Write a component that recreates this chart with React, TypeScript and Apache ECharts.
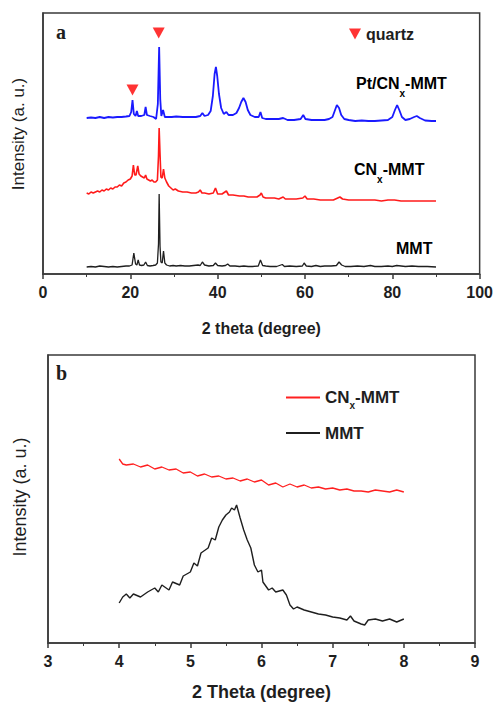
import React, { useEffect, useRef } from 'react';
import * as echarts from 'echarts';

// ---------- Panel a: XRD patterns (2 theta 10–90°) ----------
const mmtA: [number, number][] = [
  [10,7],[11,7.5],[12,7],[13,8],[14,7.5],[15,7],[16,7.5],[17,7],[18,7.5],[19,8],[19.8,8],[20.4,9],[20.8,21],[21.2,10],[21.5,9],[21.8,14],[22.1,9],[22.6,8.5],[23.1,9],[23.5,12],[23.9,8.5],[24.5,8],[25.2,8.5],[25.8,9],[26.2,11],[26.45,30],[26.6,80],[26.8,28],[27.0,12],[27.3,11],[27.6,23],[27.9,11],[28.3,9],[29,8],[29.8,8.5],[30.5,8],[31.5,8.5],[32.5,8],[33.5,8],[34.5,8.5],[35.5,9],[36.0,8.5],[36.5,12],[37,9],[38,8],[39,8.5],[39.5,11],[40,8.5],[41,8],[41.8,8.5],[42.3,10],[42.8,8],[44,8],[45,7.5],[46,8],[47,7.5],[48,7.5],[49.3,8],[49.8,14],[50.3,8.5],[51,8],[52,7.5],[53.5,7.5],[54.8,9.5],[55.3,7.5],[56.5,8],[58,7.5],[59.4,8],[59.8,11],[60.3,8],[61.5,7.5],[62.5,8.5],[63.5,7.5],[64.5,8],[66,8],[67.2,8.5],[67.8,12],[68.4,9],[69.2,7.5],[70.5,7.5],[72,8],[73.5,7.5],[75,8.5],[76,7.5],[77.5,7.5],[79,8],[80,7.5],[81,8.5],[82,8],[83,7.5],[84.5,8],[86,7.5],[88,7.5],[90,7]
];

const cnxA: [number, number][] = [
  [10,81],[10.5,80],[11,82],[11.5,81],[12,82],[12.5,83],[13,82],[13.5,84],[14,83],[14.5,85],[15,84],[15.5,86],[16,85],[16.5,87],[17,87],[17.5,89],[18,88],[18.5,91],[19,92],[19.5,94],[20,95],[20.4,98],[20.7,109],[21.0,99],[21.3,99],[21.7,108],[22.0,100],[22.4,98],[22.8,97],[23.2,96],[23.5,99],[23.8,95],[24.2,94],[24.6,93],[25,94],[25.4,92],[25.8,92],[26.2,94],[26.45,118],[26.6,146],[26.8,120],[27.0,97],[27.3,96],[27.6,105],[27.9,96],[28.3,92],[28.8,88],[29.3,86],[29.8,84],[30.3,85],[31,83],[32,82],[33,82],[34,81],[35,81],[35.6,82],[36,84],[36.4,81],[37,81],[38,80],[39,81],[39.5,86],[40,80],[41,80],[42,83],[42.5,79],[43.5,79],[45,78],[46,78],[47,77],[48,77],[49,77],[49.7,79],[50,81],[50.4,77],[51,76],[52,76],[53,76],[54,75],[55,77],[55.5,75],[57,75],[58,75],[59.5,76],[60,78],[60.5,75],[62,75],[63.5,74],[65,74],[66.5,74],[67.5,76],[68,77],[68.6,75],[70,74],[71.5,74],[73,74],[74.5,74],[76,74],[77.5,73],[79,74],[80.5,74],[82,73],[83.5,73],[85,73],[86.5,73],[88,73],[90,73]
];

const ptA: [number, number][] = [
  [10,156],[11,156.5],[12,156],[13,157],[14,156],[15,157],[16,156.5],[17,157],[18,157],[19,157.5],[19.8,158],[20.2,162],[20.5,174],[20.8,160],[21.2,158],[21.5,163],[21.8,158],[22.5,158],[23.2,159],[23.5,167],[23.8,159],[24.5,158],[25.3,157],[25.9,155],[26.3,170],[26.6,227],[26.85,175],[27.1,158],[27.5,164],[27.9,157],[28.5,157],[29.5,157],[30.5,157.5],[32,157],[33.5,157],[35,157],[36,158],[36.5,161],[37,158],[37.8,159],[38.4,163],[38.9,178],[39.3,200],[39.6,207],[39.9,198],[40.3,180],[40.8,166],[41.4,160],[42,162],[42.5,159],[43.5,159],[44.3,161],[44.9,166],[45.4,172],[45.9,176],[46.4,172],[46.9,164],[47.5,159],[48.5,157],[49.4,157],[49.8,162],[50.2,156],[51,155],[52.5,155],[54,155],[55,156],[56,154],[57.5,154],[59,155],[59.6,159],[60.1,155],[61.5,154],[63,154],[64.5,154],[65.5,155],[66.3,157],[66.8,163],[67.3,169],[67.8,166],[68.3,159],[69,155],[70,154],[71.5,153],[73,153.5],[74.5,153],[76,153],[77.5,153.5],[79,154],[80,157],[80.6,164],[81.1,169],[81.6,164],[82.2,157],[83,154],[84,155],[85,157],[85.6,158],[86.3,156],[87.5,153.5],[89,153],[90,153]
];

const quartzMarks: [number, number][] = [[20.5, 184], [26.5, 241]];

// ---------- Panel b: low-angle XRD (2 theta 4–8°) ----------
const cnxB: [number, number][] = [
  [4.0,184],[4.05,179],[4.1,178],[4.2,179],[4.3,176],[4.4,178],[4.5,174],[4.6,176],[4.7,173],[4.8,174],[4.9,170],[5.0,171],[5.1,167],[5.2,169],[5.3,166],[5.4,167],[5.5,164],[5.6,165],[5.7,162],[5.8,164],[5.9,161],[6.0,163],[6.1,158],[6.2,160],[6.3,156],[6.4,159],[6.5,156],[6.6,158],[6.7,155],[6.8,156],[6.9,154],[7.0,155],[7.1,153],[7.2,154],[7.3,152],[7.4,152],[7.5,151],[7.6,153],[7.7,152],[7.8,151],[7.9,153],[8.0,151]
];

const mmtB: [number, number][] = [
  [4.0,40],[4.05,46],[4.1,49],[4.15,45],[4.2,49],[4.3,46],[4.4,51],[4.5,55],[4.55,51],[4.6,58],[4.7,53],[4.75,61],[4.85,58],[4.9,67],[5.0,71],[5.05,80],[5.1,77],[5.15,90],[5.25,95],[5.3,105],[5.35,103],[5.4,116],[5.45,123],[5.5,128],[5.55,131],[5.58,135],[5.62,133],[5.65,138],[5.7,125],[5.75,113],[5.8,103],[5.85,95],[5.9,78],[5.95,71],[6.0,73],[6.02,61],[6.05,58],[6.1,53],[6.15,55],[6.2,51],[6.3,53],[6.35,48],[6.4,38],[6.45,34],[6.5,36],[6.6,33],[6.7,31],[6.8,29],[6.9,28],[7.0,26],[7.1,25],[7.2,23],[7.25,27],[7.3,22],[7.4,19],[7.45,18],[7.5,23],[7.6,24],[7.7,22],[7.8,24],[7.9,21],[8.0,24]
];

const SANS = "Arial, 'Liberation Sans', Helvetica, sans-serif";
const SERIF = "'Times New Roman', 'Liberation Serif', serif";
const AXIS = '#3a3a3a';
const TXT = '#1e1e1e';

const subRich = (size: number, subLH: number) => ({
  n: { fontFamily: SANS, fontSize: size, fontWeight: 'bold', color: TXT, lineHeight: size + 2 },
  s: { fontFamily: SANS, fontSize: 10, fontWeight: 'bold', color: TXT, lineHeight: subLH, verticalAlign: 'bottom' },
});

export default function App() {
  const ref = useRef<HTMLDivElement>(null);
  useEffect(() => {
    if (!ref.current) return;
    const chart = echarts.init(ref.current, undefined, { renderer: 'svg' });
    const xAxisCommon = (name: string, nameSize: number) => ({
      type: 'value',
      axisLine: { show: true, lineStyle: { color: AXIS, width: 1.5 } },
      axisTick: { show: true, length: 5, inside: false, lineStyle: { color: AXIS, width: 1.5 } },
      minorTick: { show: true, splitNumber: 2, length: 3, lineStyle: { color: AXIS, width: 1 } },
      axisLabel: { fontFamily: SANS, fontSize: 16, fontWeight: 'bold', color: TXT, margin: 10 },
      splitLine: { show: false },
      minorSplitLine: { show: false },
      name,
      nameLocation: 'middle',
      nameTextStyle: { fontFamily: SANS, fontSize: nameSize, fontWeight: 'bold', color: TXT },
    });
    const yAxisCommon = {
      type: 'value',
      axisLine: { show: true, lineStyle: { color: AXIS, width: 1.5 } },
      axisTick: { show: false },
      axisLabel: { show: false },
      splitLine: { show: false },
    };
    const option: any = {
      animation: false,
      backgroundColor: '#ffffff',
      grid: [
        { left: 43, top: 13, right: 14, bottom: 431, show: true, borderColor: AXIS, borderWidth: 1.5, backgroundColor: 'transparent' },
        { left: 48, top: 355, right: 21, bottom: 62, show: true, borderColor: AXIS, borderWidth: 1.5, backgroundColor: 'transparent' },
      ],
      xAxis: [
        { ...xAxisCommon('2 theta (degree)', 16), gridIndex: 0, min: 0, max: 100, interval: 20, nameGap: 46 },
        { ...xAxisCommon('2 Theta (degree)', 18), gridIndex: 1, min: 3, max: 9, interval: 1, nameGap: 40 },
      ],
      yAxis: [
        { ...yAxisCommon, gridIndex: 0, min: 0, max: 261 },
        { ...yAxisCommon, gridIndex: 1, min: 0, max: 288 },
      ],
      legend: [
        {
          data: [{ name: 'quartz', icon: 'path://M0,0 L12,0 L6,11 Z' }],
          left: 349,
          top: 26,
          padding: 0,
          itemWidth: 12,
          itemHeight: 11,
          textStyle: { fontFamily: SANS, fontSize: 16, fontWeight: 'bold', color: TXT },
        },
        {
          data: ['CNx-MMT (b)', 'MMT (b)'],
          orient: 'vertical',
          left: 286,
          top: 389,
          padding: 0,
          itemWidth: 34,
          itemHeight: 2,
          itemGap: 14,
          icon: 'rect',
          formatter: (name: string) => (name === 'CNx-MMT (b)' ? '{n|CN}{s|x}{n|-MMT}' : '{n|MMT}'),
          textStyle: { fontFamily: SANS, fontSize: 17, fontWeight: 'bold', color: TXT, rich: subRich(17, 26) },
        },
      ],
      series: [
        { name: 'MMT', type: 'line', xAxisIndex: 0, yAxisIndex: 0, data: mmtA, showSymbol: false, symbol: 'none', lineStyle: { color: '#1f1f1f', width: 1.3 }, itemStyle: { color: '#1f1f1f' } },
        { name: 'CNx-MMT', type: 'line', xAxisIndex: 0, yAxisIndex: 0, data: cnxA, showSymbol: false, symbol: 'none', lineStyle: { color: '#ff1a1a', width: 1.6 }, itemStyle: { color: '#ff1a1a' } },
        { name: 'Pt/CNx-MMT', type: 'line', xAxisIndex: 0, yAxisIndex: 0, data: ptA, showSymbol: false, symbol: 'none', lineStyle: { color: '#1a1aff', width: 1.8 }, itemStyle: { color: '#1a1aff' } },
        { name: 'quartz', type: 'scatter', xAxisIndex: 0, yAxisIndex: 0, data: quartzMarks, symbol: 'triangle', symbolRotate: 180, symbolSize: [12, 11], itemStyle: { color: '#ff0000' } },
        { name: 'CNx-MMT (b)', type: 'line', xAxisIndex: 1, yAxisIndex: 1, data: cnxB, showSymbol: false, symbol: 'none', lineStyle: { color: '#ff2020', width: 1.3 }, itemStyle: { color: '#ff2020' } },
        { name: 'MMT (b)', type: 'line', xAxisIndex: 1, yAxisIndex: 1, data: mmtB, showSymbol: false, symbol: 'none', lineStyle: { color: '#1f1f1f', width: 1.4 }, itemStyle: { color: '#1f1f1f' } },
      ],
      graphic: [
        { type: 'text', left: 56, top: 22, style: { text: 'a', fontFamily: SERIF, fontSize: 20, fontWeight: 'bold', fill: TXT } },
        { type: 'text', left: 56, top: 363, style: { text: 'b', fontFamily: SERIF, fontSize: 20, fontWeight: 'bold', fill: TXT } },
        { type: 'text', x: 18, y: 134, rotation: Math.PI / 2, style: { text: 'Intensity (a. u.)', fontFamily: SANS, fontSize: 17, fill: TXT, align: 'center', verticalAlign: 'middle' } },
        { type: 'text', x: 20, y: 497, rotation: Math.PI / 2, style: { text: 'Intensity (a. u.)', fontFamily: SANS, fontSize: 18, fill: TXT, align: 'center', verticalAlign: 'middle' } },
        { type: 'text', x: 356, y: 83, style: { text: '{n|Pt/CN}{s|x}{n|-MMT}', rich: subRich(16, 30), verticalAlign: 'middle' } },
        { type: 'text', x: 354, y: 169, style: { text: '{n|CN}{s|x}{n|-MMT}', rich: subRich(16, 30), verticalAlign: 'middle' } },
        { type: 'text', x: 396, y: 248, style: { text: '{n|MMT}', rich: subRich(16, 30), verticalAlign: 'middle' } },
      ],
    };
    chart.setOption(option);
    return () => chart.dispose();
  }, []);
  return <div ref={ref} style={{ position: 'fixed', left: 0, top: 0, width: 496, height: 705, background: '#fff' }} />;
}
